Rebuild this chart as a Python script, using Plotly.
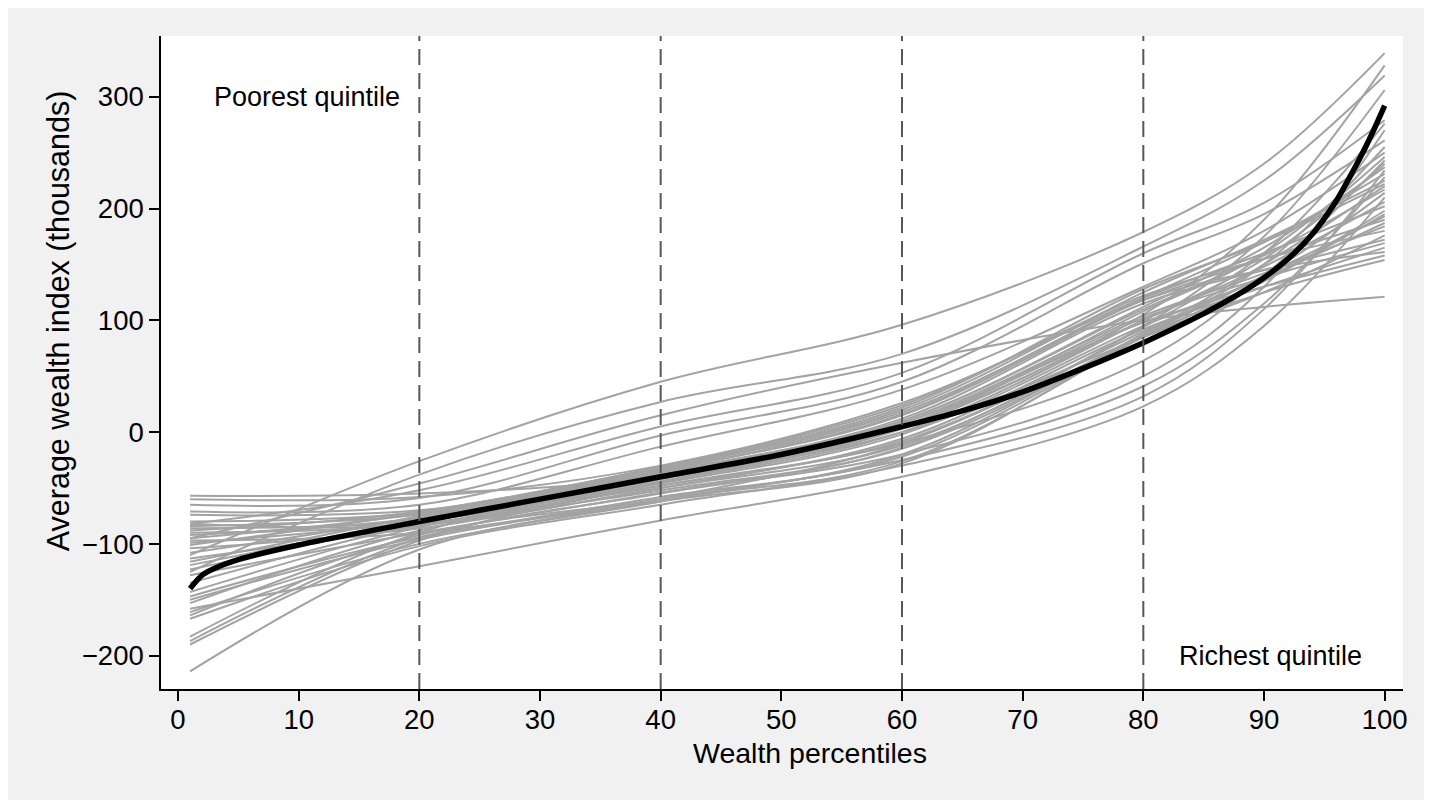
import plotly.graph_objects as go

pctl_knots = [1, 20, 40, 60, 80, 90, 100]

# Gray curves: average wealth index (thousands) at each knot, one entry per curve
wealth_p1 = [-110, -125, -95, -82, -65, -71, -57, -60, -214, -190, -187, -183, -167, -164, -158, -153, -147, -143, -135,
             -123, -119, -116, -113, -108, -104, -101, -99, -97, -95, -92, -90, -88, -86, -84, -82, -80, -74, -150, -128, -161]
wealth_p20 = [-26, -38, -46, -52, -59, -65, -55, -58, -105, -97, -95, -90, -102, -92, -120, -88, -94, -85, -82,
              -80, -78, -75, -84, -76, -86, -72, -80, -90, -73, -77, -82, -71, -79, -74, -83, -72, -70, -96, -90, -100]
wealth_p40 = [45, 27, 15, 5, -3, -13, -40, -30, -60, -45, -55, -48, -65, -60, -79, -52, -62, -45, -42,
              -38, -35, -32, -48, -36, -50, -31, -44, -58, -33, -40, -46, -31, -42, -37, -50, -34, -36, -60, -54, -62]
wealth_p60 = [96, 70, 62, 53, 45, 38, 0, 26, -10, 5, -20, -10, -30, -25, -40, -15, -28, 0, 5,
              10, 15, 20, -8, 10, -12, 22, 3, -22, 18, 8, -2, 24, 5, 12, -6, 16, 8, -26, -14, -20]
wealth_p80 = [179, 166, 100, 160, 151, 130, 85, 120, 95, 105, 50, 64, 32, 41, 23, 88, 86, 100, 108,
              112, 120, 125, 90, 110, 86, 128, 100, 85, 118, 104, 95, 122, 102, 115, 92, 118, 98, 86, 94, 85]
wealth_p90 = [240, 225, 112, 205, 195, 180, 125, 160, 175, 190, 130, 140, 110, 115, 95, 150, 140, 155, 160,
              165, 170, 172, 140, 158, 135, 170, 148, 135, 155, 142, 138, 155, 138, 145, 130, 145, 130, 150, 160, 125]
wealth_p100 = [339, 319, 121, 279, 261, 250, 176, 202, 306, 328, 270, 243, 234, 228, 210, 220, 193, 240, 246,
               237, 231, 225, 214, 217, 198, 222, 206, 195, 190, 184, 187, 180, 169, 172, 165, 161, 158, 255, 276, 154]

# Pooled (black) curve
black_pctl = [1, 2, 3, 5, 10, 20, 30, 40, 50, 60, 65, 70, 75, 80, 85, 88, 90, 92, 94, 96, 97, 98, 99, 100]
black_wealth = [-140, -128, -122, -114, -101, -80, -60, -40, -20, 5, 19, 36, 57, 80, 106, 124, 138, 155, 177, 207, 226, 246, 268, 292]

# Quintile boundaries and axis ticks
quintile_cuts = [20, 40, 60, 80]
x_ticks = [0, 10, 20, 30, 40, 50, 60, 70, 80, 90, 100]
y_ticks = [-200, -100, 0, 100, 200, 300]

FONT = "Liberation Sans, Arial, Helvetica, sans-serif"

fig = go.Figure()

columns = [wealth_p1, wealth_p20, wealth_p40, wealth_p60, wealth_p80, wealth_p90, wealth_p100]
for curve in zip(*columns):
    fig.add_trace(go.Scatter(
        x=pctl_knots, y=list(curve), mode="lines",
        line=dict(color="#a3a3a3", width=2, shape="spline", smoothing=1.0),
        hoverinfo="skip", showlegend=False))

fig.add_trace(go.Scatter(
    x=black_pctl, y=black_wealth, mode="lines",
    line=dict(color="black", width=5.5, shape="spline", smoothing=0.8),
    showlegend=False))

for q in quintile_cuts:
    fig.add_shape(type="line", xref="x", yref="paper", x0=q, x1=q, y0=0, y1=1,
                  line=dict(color="#585858", width=2, dash="16px,8px"), layer="above")

fig.add_annotation(x=10.7, y=300, xref="x", yref="y", text="Poorest quintile", showarrow=False,
                   font=dict(family=FONT, size=27, color="black"), xanchor="center", yanchor="middle")
fig.add_annotation(x=90.5, y=-200, xref="x", yref="y", text="Richest quintile", showarrow=False,
                   font=dict(family=FONT, size=27, color="black"), xanchor="center", yanchor="middle")

# Axis titles (placed as in the reference, slightly off-centre)
fig.add_annotation(x=-0.083, y=100, xref="paper", yref="y", text="Average wealth index (thousands)",
                   textangle=-90, showarrow=False, xanchor="center", yanchor="middle",
                   font=dict(family=FONT, size=30.5, color="black"))
fig.add_annotation(x=52.4, y=-0.0985, xref="x", yref="paper", text="Wealth percentiles",
                   showarrow=False, xanchor="center", yanchor="middle",
                   font=dict(family=FONT, size=28.5, color="black"))

axis_common = dict(showgrid=False, zeroline=False, showline=True, linecolor="black", linewidth=1.5,
                   ticks="outside", ticklen=10, tickwidth=1.5, tickcolor="black",
                   tickfont=dict(family=FONT, size=27.5, color="black"))

fig.update_layout(
    width=1432, height=800,
    margin=dict(l=153, r=37, t=28, b=119),
    paper_bgcolor="#f0f1f0", plot_bgcolor="white",
    font=dict(family=FONT, color="black"),
    showlegend=False,
    xaxis=dict(range=[-1.41, 101.52], tickmode="array", tickvals=x_ticks, ticklabelstandoff=-5, **axis_common),
    yaxis=dict(range=[-229.8, 354.3], tickmode="array", tickvals=y_ticks, **axis_common),
)

fig.write_html("out.html",
               post_script="document.body.style.overflow='hidden';")
